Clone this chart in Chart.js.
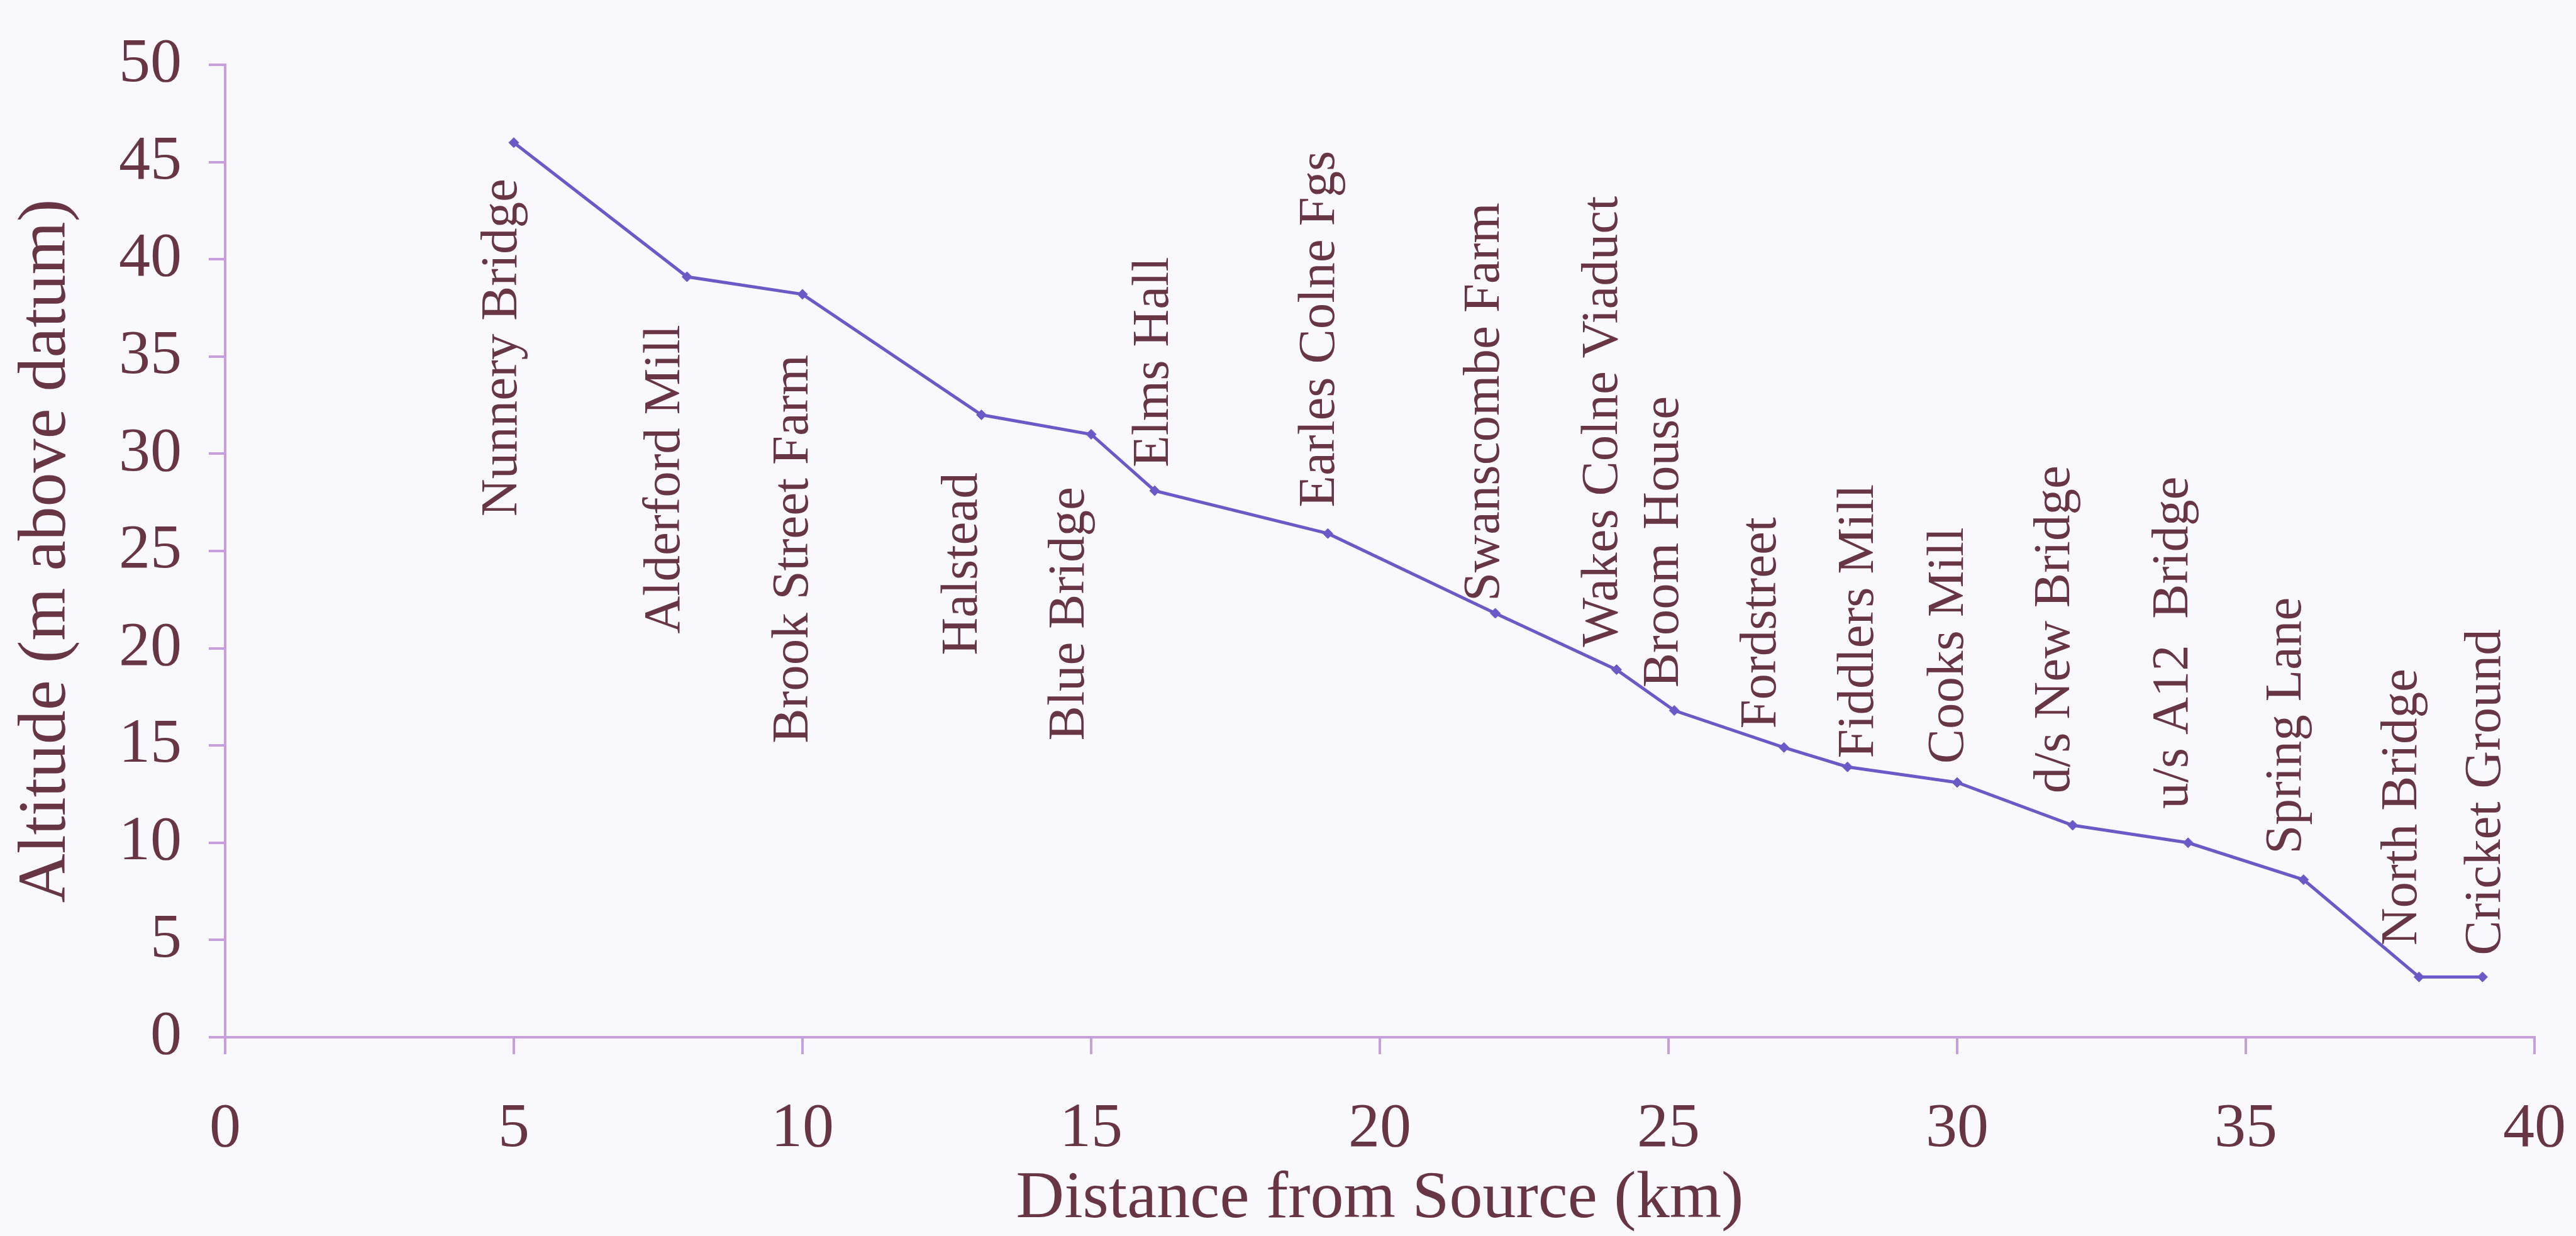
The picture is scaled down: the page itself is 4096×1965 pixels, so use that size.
<!DOCTYPE html>
<html>
<head>
<meta charset="utf-8">
<script src="https://cdn.jsdelivr.net/npm/chart.js@4"></script>
<style>
  html, body { margin: 0; padding: 0; background: #f8f8fd; }
  #wrap { width: 4096px; height: 1965px; position: relative; }
</style>
</head>
<body>
<div id="wrap"><canvas id="c" width="4096" height="1965"></canvas></div>
<script>
// ---- data ----
const siteNames = [
  "Nunnery Bridge", "Alderford Mill", "Brook Street Farm", "Halstead", "Blue Bridge",
  "Elms Hall", "Earles Colne Fgs", "Swanscombe Farm", "Wakes Colne Viaduct", "Broom House",
  "Fordstreet", "Fiddlers Mill", "Cooks Mill", "d/s New Bridge", "u/s A12  Bridge",
  "Spring Lane", "North Bridge", "Cricket Ground"
];
const distanceKm = [5, 8, 10, 13.1, 15, 16.1, 19.1, 22, 24.1, 25.1, 27, 28.1, 30, 32, 34, 36, 38, 39.1];
const altitudeM  = [46, 39.1, 38.2, 32, 31, 28.1, 25.9, 21.8, 18.9, 16.8, 14.9, 13.9, 13.1, 10.9, 10, 8.1, 3.1, 3.1];
// where each site label starts (in km / m units); the text runs upward from here
const labelAnchorKm  = [5.04, 7.87, 10.09, 13.02, 14.87, 16.33, 19.21, 22.06, 24.11, 25.16, 26.85, 28.54, 30.1, 31.94, 33.99, 35.95, 37.95, 39.4];
const labelAnchorAlt = [26.77, 20.75, 15.11, 19.64, 15.25, 29.3, 27.24, 22.41, 20.07, 17.97, 15.86, 14.34, 14.06, 12.54, 11.75, 9.42, 4.71, 4.21];
const xTitle = "Distance from Source (km)";
const yTitle = "Altitude (m above datum)";

// ---- styles ----
const TEXT = "#673543";
const AXIS = "#c6a0de";
const LINE = "#6a5ac8";
const FONT = "Liberation Serif";

const points = distanceKm.map((x, i) => ({ x: x, y: altitudeM[i] }));

const siteLabels = {
  id: "siteLabels",
  afterDatasetsDraw(chart) {
    const ctx = chart.ctx;
    const xs = chart.scales.x, ys = chart.scales.y;
    ctx.save();
    ctx.fillStyle = TEXT;
    ctx.font = "83px '" + FONT + "'";
    ctx.textAlign = "left";
    ctx.textBaseline = "alphabetic";
    siteNames.forEach((name, i) => {
      const px = xs.getPixelForValue(labelAnchorKm[i]);
      const py = ys.getPixelForValue(labelAnchorAlt[i]);
      ctx.save();
      ctx.translate(px, py);
      ctx.rotate(-Math.PI / 2);
      ctx.fillText(name, 0, 0);
      ctx.restore();
    });
    ctx.restore();
  }
};

const bg = {
  id: "bg",
  beforeDraw(chart) {
    const ctx = chart.ctx;
    ctx.save();
    ctx.fillStyle = "#f8f8fd";
    ctx.fillRect(0, 0, chart.width, chart.height);
    ctx.restore();
  }
};

new Chart(document.getElementById("c"), {
  type: "line",
  data: {
    datasets: [{
      data: points,
      borderColor: LINE,
      backgroundColor: LINE,
      borderWidth: 5,
      pointStyle: "rectRot",
      pointRadius: 8,
      pointBorderWidth: 1,
      pointBackgroundColor: LINE,
      pointBorderColor: LINE,
      tension: 0,
      fill: false
    }]
  },
  options: {
    responsive: false,
    devicePixelRatio: 1,
    animation: false,
    parsing: false,
    layout: { padding: { left: 0, top: 86, right: 66, bottom: 0 } },
    plugins: { legend: { display: false }, tooltip: { enabled: false } },
    scales: {
      x: {
        type: "linear",
        min: 0, max: 40,
        ticks: { stepSize: 5, color: TEXT, font: { family: FONT, size: 100 }, padding: 60, maxRotation: 0 },
        grid: { drawOnChartArea: false, drawTicks: true, tickLength: 27, color: AXIS, lineWidth: 4 },
        border: { display: true, color: AXIS, width: 4 },
        title: { display: true, text: xTitle, color: TEXT, font: { family: FONT, size: 106, lineHeight: 1.1 }, padding: { top: 0, bottom: 0 } },
        afterFit(scale) { scale.height = 316; scale.paddingLeft = 0; scale.paddingRight = 0; }
      },
      y: {
        type: "linear",
        min: 0, max: 50,
        ticks: { stepSize: 5, color: TEXT, font: { family: FONT, size: 100 }, padding: 43 },
        grid: { drawOnChartArea: false, drawTicks: true, tickLength: 26, color: AXIS, lineWidth: 4 },
        border: { display: true, color: AXIS, width: 4 },
        title: { display: true, text: yTitle, color: TEXT, font: { family: FONT, size: 108 }, padding: { top: 10, bottom: 0 } },
        afterFit(scale) { scale.width = 358; }
      }
    }
  },
  plugins: [bg, siteLabels]
});
</script>
</body>
</html>
